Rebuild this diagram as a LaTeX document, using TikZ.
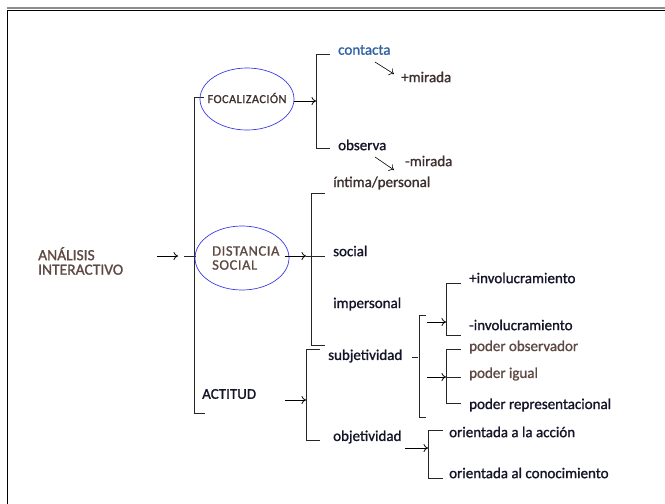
\documentclass[tikz,border=0pt]{standalone}
\usepackage{fontspec}
\setmainfont{Carlito}
\usetikzlibrary{arrows.meta,shapes.geometric}
\definecolor{brn}{HTML}{5E4A44}
\definecolor{dbrn}{HTML}{3E3030}
\definecolor{blu}{HTML}{2E62A0}
\definecolor{ell}{HTML}{3A3AE6}
\definecolor{ink}{HTML}{15152A}
\newfontfamily\heavy[FakeBold=1.2]{Carlito}
\tikzset{
  lbl/.style={anchor=west,inner sep=0pt,font=\heavy\fontsize{15}{17}\selectfont,text=ink},
  oval/.style={ellipse,draw=ell,line width=0.7pt,inner sep=0pt},
  brk/.style={draw=black!85,line width=0.8pt},
  arr/.style={draw=black,line width=0.8pt,-{To[length=4.5pt,width=8pt]}},
}
\begin{document}
\begin{tikzpicture}[x=1pt,y=-1pt]
\useasboundingbox (0,0) rectangle (665,504);
% frame
\draw[black!45,line width=1.2pt] (7,8) -- (665,8);
\draw[black,line width=1pt] (7,504) -- (7,10) -- (665,10);

% root
\node[lbl,text=brn,align=left,font=\heavy\fontsize{15.5}{14.5}\selectfont] (anal) at (38,261) {ANÁLISIS\\INTERACTIVO};
\coordinate (a0) at (157,256);
\coordinate (a1) at (178,256);
\coordinate (d0) at (184,256);
\coordinate (d1) at (196,256);
\draw[arr] (a0) -- (a1);
\draw[brk] (d0) -- (d1);

% main bracket
\coordinate (m0) at (204,97);
\coordinate (m1) at (194,97);
\coordinate (m2) at (194,413);
\coordinate (m3) at (205,413);
\draw[brk] (m0) -- (m1) -- (m2) -- (m3);

% focalizacion
\node[oval,minimum width=94pt,minimum height=62pt] (foc) at (247,99) {};
\node[inner sep=0pt,text=dbrn,font=\heavy\fontsize{12.2}{14}\selectfont\addfontfeatures{LetterSpace=4}] (foct) at (247,98) {FOCALIZACIÓN};
\coordinate (f0) at (294,101);
\coordinate (f1) at (316,101);
\draw[arr] (f0) -- (f1);
\coordinate (b1a) at (330,54);
\coordinate (b1b) at (316,54);
\coordinate (b1c) at (316,148);
\coordinate (b1d) at (330,148);
\draw[brk] (b1a) -- (b1b) -- (b1c) -- (b1d);
\node[lbl,text=blu] (cont) at (338,50) {contacta};
\node[lbl,text=dbrn] (masm) at (401,77) {+mirada};
\node[lbl] (obs) at (338,145) {observa};
\node[lbl,text=dbrn] (menm) at (405,161) {-mirada};
\coordinate (c0) at (375,62);
\coordinate (c1) at (394,74);
\coordinate (o0) at (375,157);
\coordinate (o1) at (394,170);
\draw[arr,line width=0.6pt] (c0) -- (c1);
\draw[arr,line width=0.6pt] (o0) -- (o1);

% distancia social
\node[oval,minimum width=94pt,minimum height=64pt] (dist) at (242,258) {};
\node[anchor=west,inner sep=0pt,text=brn,align=left,font=\heavy\fontsize{14.5}{14}\selectfont\addfontfeatures{LetterSpace=4}] (distt) at (212,258) {DISTANCIA\\SOCIAL};
\coordinate (s0) at (285,256);
\coordinate (s1) at (306,256);
\draw[arr] (s0) -- (s1);
\coordinate (b2a) at (325,193);
\coordinate (b2b) at (311,193);
\coordinate (b2c) at (311,345);
\coordinate (b2d) at (325,345);
\coordinate (b2e) at (325,256);
\draw[brk] (b2a) -- (b2b) -- (b2c) -- (b2d);
\draw[brk] (s1) -- (b2e);
\node[lbl,text=dbrn] (intima) at (333,183) {íntima/personal};
\node[lbl] (social) at (333,251) {social};
\node[lbl] (imper) at (333,304) {impersonal};

% actitud
\node[lbl] (act) at (202,394) {ACTITUD};
\coordinate (t0) at (285,400);
\coordinate (t1) at (306,400);
\draw[arr] (t0) -- (t1);
\coordinate (b3a) at (320,349);
\coordinate (b3b) at (306,349);
\coordinate (b3c) at (306,440);
\coordinate (b3d) at (320,440);
\draw[brk] (b3a) -- (b3b) -- (b3c) -- (b3d);
\node[lbl] (subj) at (328,356) {subjetividad};
\node[lbl] (obj) at (333,437) {objetividad};

% subjetividad curly bracket
\coordinate (sd0) at (412,357);
\coordinate (sd1) at (418,357);
\draw[brk,line width=0.6pt] (sd0) -- (sd1);
\coordinate (sb0) at (426,315);
\coordinate (sb1) at (419,315);
\coordinate (sb2) at (419,417);
\coordinate (sb3) at (426,417);
\draw[brk,line width=0.6pt] (sb0) -- (sb1) -- (sb2) -- (sb3);

% involucramiento
\coordinate (i0) at (427,322);
\coordinate (i1) at (446,322);
\draw[arr] (i0) -- (i1);
\coordinate (bia) at (461,283);
\coordinate (bib) at (446,283);
\coordinate (bic) at (446,335);
\coordinate (bid) at (461,335);
\draw[brk] (bia) -- (bib) -- (bic) -- (bid);
\node[lbl] (minv) at (469,278) {+involucramiento};
\node[lbl] (ninv) at (469,325) {-involucramiento};

% poder
\coordinate (p0) at (427,377);
\coordinate (p1) at (446,377);
\draw[arr] (p0) -- (p1);
\coordinate (bpa) at (461,349);
\coordinate (bpb) at (446,349);
\coordinate (bpc) at (446,403);
\coordinate (bpd) at (461,403);
\coordinate (bpe) at (461,377);
\draw[brk] (bpa) -- (bpb) -- (bpc) -- (bpd);
\draw[brk] (p1) -- (bpe);
\node[lbl,text=brn] (pobs) at (469,347) {poder observador};
\node[lbl,text=brn] (pig) at (469,374) {poder igual};
\node[lbl] (prep) at (469,405) {poder representacional};

% objetividad
\coordinate (j0) at (405,448);
\coordinate (j1) at (428,448);
\draw[arr] (j0) -- (j1);
\coordinate (boa) at (443,430);
\coordinate (bob) at (428,430);
\coordinate (boc) at (428,478);
\coordinate (bod) at (443,478);
\draw[brk] (boa) -- (bob) -- (boc) -- (bod);
\node[lbl] (oacc) at (449,432) {orientada a la acción};
\node[lbl] (ocon) at (449,473) {orientada al conocimiento};
\end{tikzpicture}
\end{document}
